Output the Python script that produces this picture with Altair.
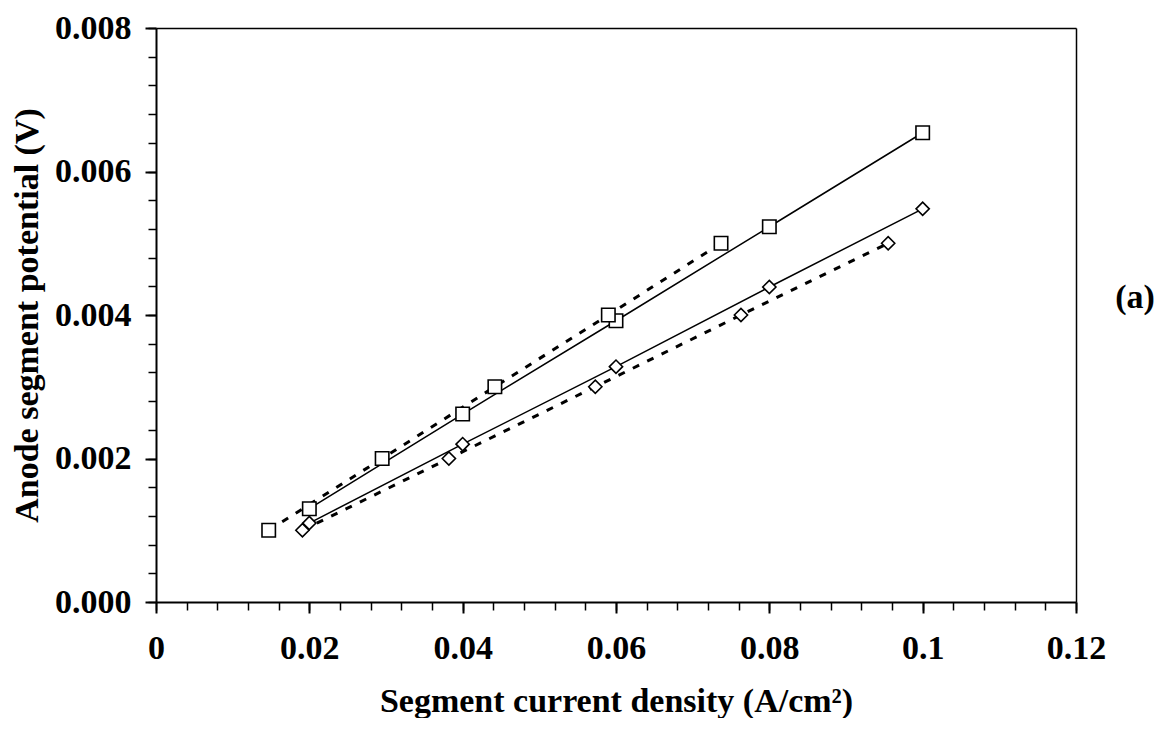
import altair as alt
import pandas as pd

# ---- data ----
x_solid = [0.02, 0.04, 0.06, 0.08, 0.10]
y_square_solid = [0.0013, 0.00262, 0.00392, 0.00523, 0.00654]
y_diamond_solid = [0.0011, 0.0022, 0.00328, 0.00439, 0.00548]

x_square_dash = [0.0147, 0.0295, 0.0442, 0.0590, 0.0737]
y_square_dash = [0.001, 0.002, 0.003, 0.004, 0.005]

x_diamond_dash = [0.0191, 0.0382, 0.0573, 0.0763, 0.0955]
y_diamond_dash = [0.001, 0.002, 0.003, 0.004, 0.005]

x_major = [0, 0.02, 0.04, 0.06, 0.08, 0.10, 0.12]
y_major = [0, 0.002, 0.004, 0.006, 0.008]
x_minor = [round(i * 0.004, 4) for i in range(31)]
y_minor = [round(i * 0.0004, 5) for i in range(21)]

x_title = "Segment current density (A/cm²)"
y_title = "Anode segment potential (V)"
panel_label = ["(a)"]

rows = []
for xs, ys, name, marker, style in [
    (x_solid, y_square_solid, "sq_solid", "square", "solid"),
    (x_solid, y_diamond_solid, "di_solid", "diamond", "solid"),
    (x_square_dash, y_square_dash, "sq_dash", "square", "dash"),
    (x_diamond_dash, y_diamond_dash, "di_dash", "diamond", "dash"),
]:
    for a, b in zip(xs, ys):
        rows.append({"x": a, "y": b, "series": name, "marker": marker, "style": style})
df = pd.DataFrame(rows)

FONT = "Liberation Serif"
FS = 34
xscale = alt.Scale(domain=[0, 0.12], nice=False, zero=False)
yscale = alt.Scale(domain=[0, 0.008], nice=False, zero=False)

minor_x = alt.Axis(values=x_minor, labels=False, tickSize=8, tickWidth=1.5, tickColor="black",
                   domain=True, domainColor="black", domainWidth=2, grid=False, title=None,
                   orient="bottom")
minor_y = alt.Axis(values=y_minor, labels=False, tickSize=8, tickWidth=1.5, tickColor="black",
                   domain=True, domainColor="black", domainWidth=2, grid=False, title=None,
                   orient="left")
frame_x = alt.Axis(labels=False, ticks=False, domain=True, domainColor="black", domainWidth=1.5,
                   grid=False, title=None, orient="top")
frame_y = alt.Axis(labels=False, ticks=False, domain=True, domainColor="black", domainWidth=1.5,
                   grid=False, title=None, orient="right")
major_x = alt.Axis(values=x_major, labelExpr="format(datum.value, '.2~f')", tickSize=11,
                   tickWidth=2, tickColor="black",
                   domain=False, grid=False, orient="bottom", labelFlush=False, labelOverlap=False,
                   labelFont=FONT, labelFontWeight="bold", labelFontSize=FS, labelColor="black",
                   labelPadding=18, title=x_title, titleFont=FONT, titleFontWeight="bold",
                   titleFontSize=FS, titleColor="black", titlePadding=19)
major_y = alt.Axis(values=y_major, labelExpr="format(datum.value, '.3f')", tickSize=11,
                   tickWidth=2, tickColor="black",
                   domain=False, grid=False, orient="left", labelFlush=False, labelOverlap=False,
                   labelFont=FONT, labelFontWeight="bold", labelFontSize=FS, labelColor="black",
                   labelPadding=14, title=y_title, titleFont=FONT, titleFontWeight="bold",
                   titleFontSize=FS, titleColor="black", titlePadding=10)

base = alt.Chart(df)

solid_lines = base.transform_filter(alt.datum.style == "solid").mark_line(
    color="black", strokeWidth=1.5
).encode(
    x=alt.X("x:Q", scale=xscale, axis=minor_x),
    y=alt.Y("y:Q", scale=yscale, axis=minor_y),
    detail="series:N",
    order="x:Q",
)

dash_lines = base.transform_filter(alt.datum.style == "dash").mark_line(
    color="black", strokeWidth=3, strokeDash=[7, 9]
).encode(
    x=alt.X("x:Q", scale=xscale, axis=frame_x),
    y=alt.Y("y:Q", scale=yscale, axis=frame_y),
    detail="series:N",
    order="x:Q",
)

squares = base.transform_filter(alt.datum.marker == "square").mark_point(
    shape="square", size=180, filled=True, fill="white", stroke="black", strokeWidth=1.6, opacity=1
).encode(
    x=alt.X("x:Q", scale=xscale, axis=major_x),
    y=alt.Y("y:Q", scale=yscale, axis=major_y),
)

diamonds = base.transform_filter(alt.datum.marker == "diamond").mark_point(
    shape="diamond", size=175, filled=True, fill="white", stroke="black", strokeWidth=1.6, opacity=1
).encode(
    x=alt.X("x:Q", scale=xscale, axis=None),
    y=alt.Y("y:Q", scale=yscale, axis=None),
)

label = alt.Chart(pd.DataFrame({"t": panel_label})).mark_text(
    font=FONT, fontWeight="bold", fontSize=FS, color="black", align="center", baseline="middle"
).encode(x=alt.value(979), y=alt.value(270), text="t:N")

chart = alt.layer(solid_lines, dash_lines, squares, diamonds, label).resolve_axis(
    x="independent", y="independent"
).properties(
    width=920, height=574,
    autosize=alt.AutoSizeParams(type="none"),
    padding={"left": 148, "top": 20, "right": 80, "bottom": 116},
).configure_view(stroke="black", strokeWidth=1.5).configure(background="white")

chart.save("out.html", embed_options={"renderer": "svg", "actions": False})
